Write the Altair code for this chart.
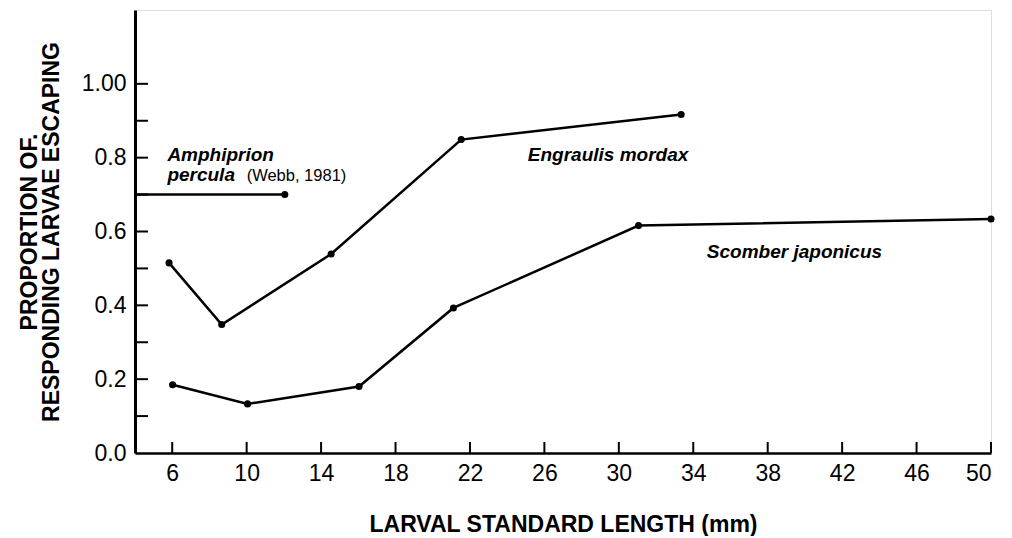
import altair as alt
import pandas as pd

# ---- data ----
engraulis_x = [5.83, 8.66, 14.54, 21.53, 33.35]
engraulis_y = [0.515, 0.348, 0.539, 0.849, 0.917]

scomber_x = [6.02, 10.05, 16.04, 21.11, 31.06, 50.0]
scomber_y = [0.185, 0.133, 0.180, 0.393, 0.616, 0.634]

amph_x = [4.0, 12.05]
amph_y = [0.70, 0.70]
amph_marker = [False, True]

x_ticks = [6, 10, 14, 18, 22, 26, 30, 34, 38, 42, 46, 50]
y_ticks = [0.1, 0.2, 0.3, 0.4, 0.5, 0.6, 0.7, 0.8, 0.9, 1.0]
y_labels = [0.0, 0.2, 0.4, 0.6, 0.8, 1.0]

label_text = ["Amphiprion", "percula", "Engraulis mordax", "Scomber japonicus"]
label_x = [5.74, 5.74, 25.11, 34.73]
label_y = [0.792, 0.737, 0.790, 0.527]

cite_text = ["(Webb, 1981)"]
cite_x = [10.0]
cite_y = [0.737]

# ---- tables ----
rows = []
for name, xs, ys, ms in [
    ("Engraulis", engraulis_x, engraulis_y, [True] * len(engraulis_x)),
    ("Scomber", scomber_x, scomber_y, [True] * len(scomber_x)),
    ("Amphiprion", amph_x, amph_y, amph_marker),
]:
    for xv, yv, mv in zip(xs, ys, ms):
        rows.append({"species": name, "x": xv, "y": yv, "marker": mv})
df = pd.DataFrame(rows)

labels_df = pd.DataFrame({"text": label_text, "x": label_x, "y": label_y})
cite_df = pd.DataFrame({"text": cite_text, "x": cite_x, "y": cite_y})
xt_df = pd.DataFrame({"x": x_ticks})
yt_df = pd.DataFrame({"y": y_ticks})

W, H = 856, 443
FONT = "Liberation Sans"

xscale = alt.Scale(domain=[4, 50], nice=False, zero=False)
yscale = alt.Scale(domain=[0, 1.2], nice=False)

xaxis = alt.Axis(
    values=x_ticks, ticks=False, grid=False, labelFont=FONT, labelFontSize=23,
    labelColor="black", labelPadding=9, domainColor="black", domainWidth=2.5,
    title="LARVAL STANDARD LENGTH (mm)", titleFont=FONT, titleFontSize=23,
    titleFontWeight="bold", titleColor="black", titlePadding=28,
)
yaxis = alt.Axis(
    values=y_labels, ticks=False, grid=False, labelFont=FONT, labelFontSize=23,
    labelColor="black", labelPadding=9, domainColor="black", domainWidth=3,
    labelExpr="datum.value == 1 ? '1.00' : format(datum.value, '.1f')",
    title=["PROPORTION OF.", "RESPONDING LARVAE ESCAPING"], titleFont=FONT,
    titleFontSize=23, titleFontWeight="bold", titleColor="black",
    titlePadding=18, titleLineHeight=22,
)

base = alt.Chart(df)

lines = base.mark_line(color="black", strokeWidth=2.5).encode(
    x=alt.X("x:Q", scale=xscale, axis=xaxis),
    y=alt.Y("y:Q", scale=yscale, axis=yaxis),
    detail="species:N",
    order="x:Q",
)

points = base.transform_filter("datum.marker").mark_circle(
    color="black", opacity=1, size=50
).encode(
    x=alt.X("x:Q", scale=xscale),
    y=alt.Y("y:Q", scale=yscale),
)

xticks = alt.Chart(xt_df).mark_rule(color="black", strokeWidth=2).encode(
    x=alt.X("x:Q", scale=xscale), y=alt.value(H), y2=alt.value(H - 11)
)
yticks = alt.Chart(yt_df).mark_rule(color="black", strokeWidth=2).encode(
    y=alt.Y("y:Q", scale=yscale), x=alt.value(0), x2=alt.value(13)
)

labels = alt.Chart(labels_df).mark_text(
    font=FONT, fontSize=19, fontWeight="bold", fontStyle="italic",
    align="left", baseline="alphabetic", color="black",
).encode(x=alt.X("x:Q", scale=xscale), y=alt.Y("y:Q", scale=yscale), text="text:N")

cite = alt.Chart(cite_df).mark_text(
    font=FONT, fontSize=16.5, align="left", baseline="alphabetic", color="black",
).encode(x=alt.X("x:Q", scale=xscale), y=alt.Y("y:Q", scale=yscale), text="text:N")

chart = alt.layer(lines, points, xticks, yticks, labels, cite).properties(
    width=W, height=H,
    padding={"left": 10, "top": 2, "right": 0, "bottom": 0},
).configure_view(stroke=None).configure(background="white")

chart.save("out.html", embed_options={"renderer": "svg", "actions": False})
